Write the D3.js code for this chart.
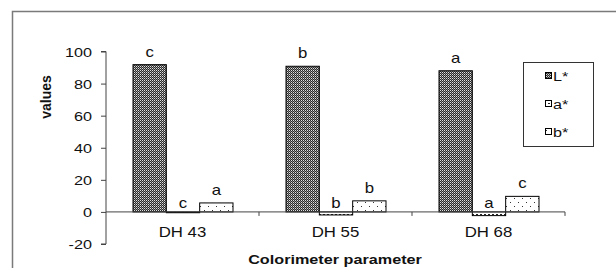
<!DOCTYPE html>
<html>
<head>
<meta charset="utf-8">
<script src="https://cdn.jsdelivr.net/npm/d3@7"></script>
<style>
  body { margin: 0; background: #fff; }
  svg { display: block; font-family: "Liberation Sans", Arial, sans-serif; }
</style>
</head>
<body>
<div id="chart"></div>
<script>
// --- data ---
const categories = ["DH 43", "DH 55", "DH 68"];
const seriesKeys = ["L*", "a*", "b*"];
const valuesL = [91.8, 90.8, 88.0];
const valuesA = [-0.5, -1.9, -2.3];
const valuesB = [5.6, 6.9, 9.7];
const lettersL = ["c", "b", "a"];
const lettersA = ["c", "b", "a"];
const lettersB = ["a", "b", "c"];
const yTicks = [-20, 0, 20, 40, 60, 80, 100];

const width = 616, height = 268;
const sx = 1.2; // the reference text is stretched sideways

const svg = d3.select("#chart").append("svg")
    .attr("width", width).attr("height", height);

// --- patterns ---
const defs = svg.append("defs");
const pL = defs.append("pattern").attr("id", "patL")
    .attr("patternUnits", "userSpaceOnUse").attr("width", 2).attr("height", 2);
pL.append("rect").attr("width", 2).attr("height", 2).attr("fill", "#2a2a2a");
[[0, 0, "#e0e0e0"], [1, 1, "#8a8a8a"]]
    .forEach(([x, y, c]) => pL.append("rect").attr("x", x).attr("y", y)
        .attr("width", 1).attr("height", 1).attr("fill", c));

const pA = defs.append("pattern").attr("id", "patA")
    .attr("patternUnits", "userSpaceOnUse").attr("width", 4).attr("height", 3);
pA.append("rect").attr("width", 4).attr("height", 3).attr("fill", "#fff");
pA.append("rect").attr("x", 0).attr("y", 1).attr("width", 2).attr("height", 1).attr("fill", "#222");

const pB = defs.append("pattern").attr("id", "patB")
    .attr("patternUnits", "userSpaceOnUse").attr("width", 8).attr("height", 8);
pB.append("rect").attr("width", 8).attr("height", 8).attr("fill", "#fff");
pB.append("rect").attr("x", 2).attr("y", 2).attr("width", 1).attr("height", 1).attr("fill", "#333");
pB.append("rect").attr("x", 6).attr("y", 6).attr("width", 1).attr("height", 1).attr("fill", "#333");

const fills = { "L*": "url(#patL)", "a*": "url(#patA)", "b*": "url(#patB)" };

// outer frame
svg.append("rect")
    .attr("x", 12.5).attr("y", 11.5).attr("width", 620).attr("height", 280)
    .attr("fill", "none").attr("stroke", "#7a7a7a").attr("stroke-width", 1.5);

// --- scales ---
const x0 = d3.scaleBand().domain(categories).range([106, 565]);
const x1 = d3.scaleBand().domain(seriesKeys).range([27, x0.bandwidth() - 26]);
const y = d3.scaleLinear().domain([-20, 100]).range([244, 51.5]);

function label(g, x, yy, txt, size, anchor, weight) {
    g.append("text")
        .attr("transform", `translate(${x},${yy}) scale(${sx},1)`)
        .attr("text-anchor", anchor || "middle")
        .attr("font-size", size)
        .attr("font-weight", weight || "normal")
        .attr("fill", "#111")
        .text(txt);
}

// --- y axis ---
const yAxisG = svg.append("g").attr("transform", "translate(106,0)");
yAxisG.call(d3.axisLeft(y).tickValues(yTicks).tickSize(5).tickFormat(""));
yAxisG.selectAll("path, line").attr("stroke", "#444");
yAxisG.select(".domain").attr("d", `M-5,${y(-20)}H0V${y(100)}H-5`);
yTicks.forEach(t => label(svg, 92, y(t) + 5, t, 13.5, "end"));

// --- bars ---
const rows = categories.map((c, i) => ({
    cat: c,
    items: [
        { key: "L*", v: valuesL[i], letter: lettersL[i] },
        { key: "a*", v: valuesA[i], letter: lettersA[i] },
        { key: "b*", v: valuesB[i], letter: lettersB[i] }
    ]
}));

const groups = svg.selectAll(".grp").data(rows).enter().append("g")
    .attr("class", "grp")
    .attr("transform", d => `translate(${x0(d.cat)},0)`);

groups.selectAll("rect").data(d => d.items).enter().append("rect")
    .attr("x", d => x1(d.key))
    .attr("width", x1.bandwidth())
    .attr("y", d => y(Math.max(0, d.v)))
    .attr("height", d => Math.abs(y(d.v) - y(0)))
    .attr("fill", d => fills[d.key])
    .attr("stroke", "#000").attr("stroke-width", 1);

groups.each(function (d) {
    const g = d3.select(this);
    d.items.forEach(it => {
        const top = y(Math.max(0, it.v));
        const off = it.v < 0 ? 3.5 : 8;
        label(g, x1(it.key) + x1.bandwidth() / 2, top - off, it.letter, 14);
    });
});

// --- x axis ---
const xAxisG = svg.append("g").attr("transform", `translate(0,${y(0)})`);
xAxisG.call(d3.axisBottom(x0).tickSize(0).tickFormat(""));
xAxisG.selectAll("path").attr("stroke", "#444");
xAxisG.select(".domain").attr("d", `M106,0H565`);
[x0.range()[0] + x0.bandwidth(), x0.range()[0] + 2 * x0.bandwidth(), x0.range()[1]]
    .forEach(px => xAxisG.append("line").attr("x1", px).attr("x2", px)
        .attr("y1", 0).attr("y2", 4).attr("stroke", "#444"));
categories.forEach(c => label(svg, x0(c) + x0.bandwidth() / 2, 237, c, 14));

// axis titles
svg.append("text")
    .attr("transform", "translate(50.5,97) rotate(-90)")
    .attr("text-anchor", "middle").attr("font-size", 14).attr("font-weight", "bold")
    .attr("fill", "#111").text("values");
label(svg, 335, 264, "Colorimeter parameter", 13.5, "middle", "bold");

// --- legend ---
const leg = svg.append("g");
leg.append("rect").attr("x", 523.5).attr("y", 62.5).attr("width", 70).attr("height", 84)
    .attr("fill", "#fff").attr("stroke", "#333").attr("stroke-width", 1);
seriesKeys.forEach((k, i) => {
    const cy = 76 + i * 28;
    leg.append("rect").attr("x", 545.5).attr("y", cy - 3.5).attr("width", 6).attr("height", 6)
        .attr("fill", fills[k]).attr("stroke", "#000").attr("stroke-width", 1);
    label(leg, 553, cy + 5, k, 13.5, "start");
});
</script>
</body>
</html>
